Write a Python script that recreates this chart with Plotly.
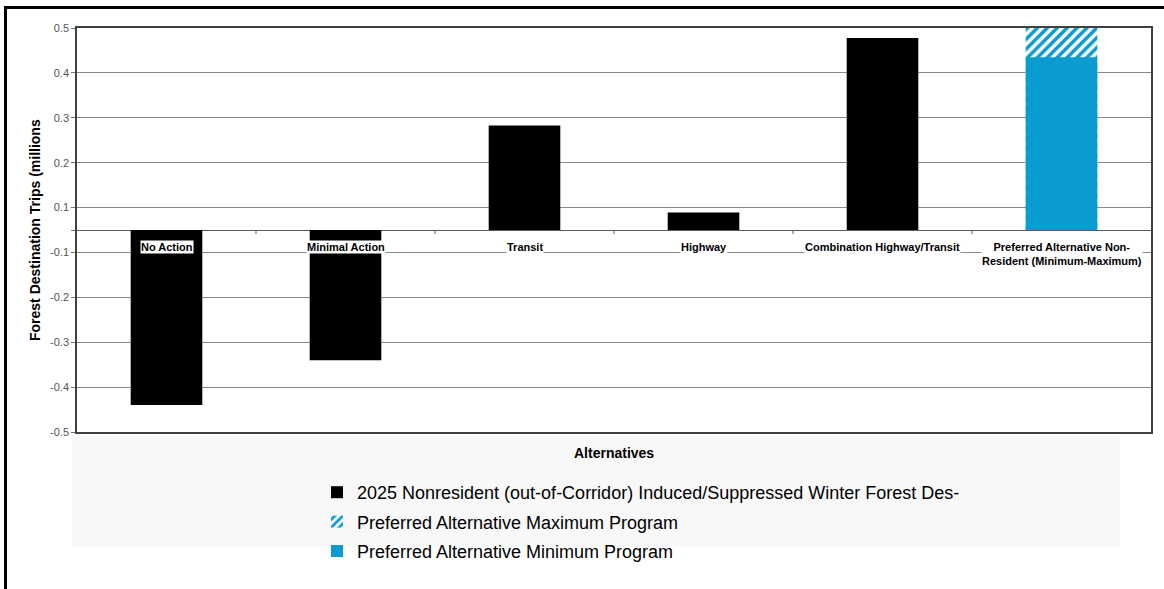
import plotly.graph_objects as go

# ---- data (values as read on the chart's labelled axis, millions) ----
categories = ["No Action", "Minimal Action", "Transit", "Highway",
              "Combination Highway/Transit", "Preferred Alternative Non-<br>Resident (Minimum-Maximum)"]
nonresident_values = [-0.44, -0.34, 0.283, 0.089, 0.478, None]
pref_max_values = [None, None, None, None, None, 0.50]
pref_min_values = [None, None, None, None, None, 0.435]
tick_labels = [0.5, 0.4, 0.3, 0.2, 0.1, -0.1, -0.2, -0.3, -0.4, -0.5]

series_names = ["2025 Nonresident (out-of-Corridor) Induced/Suppressed Winter Forest Des-",
                "Preferred Alternative Maximum Program",
                "Preferred Alternative Minimum Program"]

# The original axis skips the zero label: 0.1 and -0.1 sit half a step from zero.
def to_plot(v):
    if v is None:
        return None
    return v - 0.05 if v > 0 else v + 0.05

W, H = 1164, 589
L, R, T, B = 77, 13, 28, 157
PW, PH = W - L - R, H - T - B

def px_x(px):
    return (px - L) / PW

def px_y(py):
    return (H - B - py) / PH

BLUE = "#0a9bd0"
fig = go.Figure()
fig.add_trace(go.Bar(x=categories, y=[to_plot(v) for v in nonresident_values],
                     name=series_names[0], marker=dict(color="black", line=dict(width=0)),
                     legendgroup="a"))
fig.add_trace(go.Bar(x=categories, y=[to_plot(v) for v in pref_max_values],
                     name=series_names[1], legendgroup="b",
                     marker=dict(color="white", line=dict(width=0),
                                 pattern=dict(shape="/", fgcolor=BLUE, bgcolor="white",
                                              size=7, solidity=0.5, fillmode="replace"))))
fig.add_trace(go.Bar(x=categories, y=[to_plot(v) for v in pref_min_values],
                     name=series_names[2], marker=dict(color=BLUE, line=dict(width=0)),
                     legendgroup="c"))

tickvals = [to_plot(v) for v in tick_labels] + [0]
ticktext = [f"{v:g}" for v in tick_labels] + [""]

fig.update_layout(
    width=W, height=H,
    margin=dict(l=L, r=R, t=T, b=B),
    paper_bgcolor="white", plot_bgcolor="white",
    barmode="overlay", bargap=0.6,
    font=dict(family="Arial, Liberation Sans, sans-serif", color="black"),
    showlegend=True,
    legend=dict(x=px_x(317), y=px_y(474), xanchor="left", yanchor="top",
                bgcolor="rgba(0,0,0,0)", tracegroupgap=3,
                font=dict(family="Liberation Sans, Arial, sans-serif", size=18, color="black")),
)
fig.update_xaxes(showticklabels=False, ticks="", showgrid=False, zeroline=False,
                 showline=True, linecolor="#404040", linewidth=1.5, mirror=True,
                 range=[-0.5, 5.5])
fig.update_yaxes(range=[-0.45, 0.45], tickvals=tickvals, ticktext=ticktext,
                 ticks="outside", ticklen=4, tickcolor="#707070",
                 tickfont=dict(size=11, color="#555555"),
                 showgrid=True, gridcolor="#8a8a8a", gridwidth=1,
                 zeroline=True, zerolinecolor="#5a5a5a", zerolinewidth=1.2,
                 showline=True, linecolor="#404040", linewidth=1.5, mirror=True)

shapes = []
# light panel behind axis title & legend
shapes.append(dict(type="rect", xref="paper", yref="paper", x0=px_x(72), x1=px_x(1120),
                   y0=px_y(547), y1=px_y(435), fillcolor="#f8f8f8", line=dict(width=0), layer="below"))
# outer frame (top & left)
shapes.append(dict(type="line", xref="paper", yref="paper", x0=px_x(4), x1=px_x(1164),
                   y0=px_y(7.5), y1=px_y(7.5), line=dict(color="black", width=3)))
shapes.append(dict(type="line", xref="paper", yref="paper", x0=px_x(5.5), x1=px_x(5.5),
                   y0=px_y(6), y1=px_y(589), line=dict(color="black", width=3)))
# category boundary ticks on the zero line
for i in range(1, len(categories)):
    shapes.append(dict(type="line", xref="x", yref="y", x0=i - 0.5, x1=i - 0.5,
                       ysizemode="pixel", yanchor=0, y0=0, y1=-4,
                       line=dict(color="#5a5a5a", width=1)))
fig.update_layout(shapes=shapes)

annotations = []
for i, c in enumerate(categories):
    annotations.append(dict(x=i, y=0, xref="x", yref="y", text=c, showarrow=False,
                            xanchor="center", yanchor="top", yshift=-10, bgcolor="white", borderpad=0,
                            font=dict(size=11, color="black", family="Arial, Liberation Sans, sans-serif",
                                      weight="bold")))
annotations.append(dict(x=px_x(35), y=0.5, xref="paper", yref="paper",
                        xanchor="center", yanchor="middle",
                        text="<b>Forest Destination Trips (millions</b>", textangle=-90,
                        showarrow=False, font=dict(size=14, color="black")))
annotations.append(dict(x=0.5, y=px_y(453), xref="paper", yref="paper",
                        xanchor="center", yanchor="middle",
                        text="<b>Alternatives</b>", showarrow=False,
                        font=dict(size=14, color="black")))
fig.update_layout(annotations=annotations)

fig.write_html("out.html", config={"displayModeBar": False},
               post_script="document.body.style.margin='0';")
